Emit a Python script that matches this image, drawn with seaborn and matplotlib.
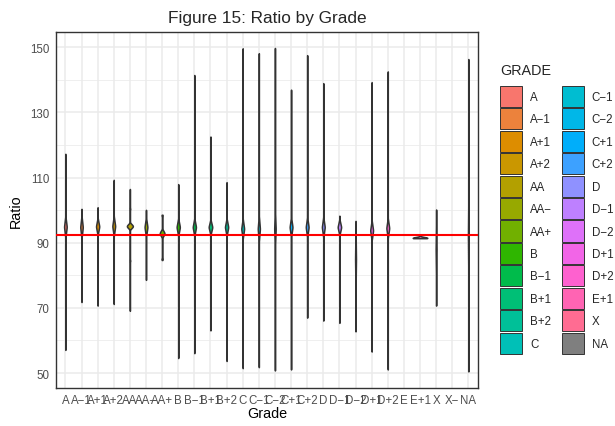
import numpy as np
import pandas as pd
import matplotlib
matplotlib.use("Agg")
import matplotlib.pyplot as plt
from matplotlib.patches import Patch
import seaborn as sns

# x axis order (E and X− have no rows)
grade_order = ["A", "A−1", "A+1", "A+2", "AA", "AA−", "AA+", "B", "B−1", "B+1", "B+2",
               "C", "C−1", "C−2", "C+1", "C+2", "D", "D−1", "D−2", "D+1", "D+2",
               "E", "E+1", "X", "X−", "NA"]

# grades with data (legend order)
grades = ["A", "A−1", "A+1", "A+2", "AA", "AA−", "AA+", "B", "B−1", "B+1", "B+2",
          "C", "C−1", "C−2", "C+1", "C+2", "D", "D−1", "D−2", "D+1", "D+2",
          "E+1", "X", "NA"]

ratio_min = [57.1, 71.8, 70.7, 71.2, 69.1, 78.6, 84.7, 54.6, 56.1, 63.1, 53.7,
             51.5, 51.8, 50.8, 51.1, 67.0, 66.1, 65.4, 62.8, 56.6, 51.1,
             91.4, 70.7, 50.5]
ratio_max = [117.3, 100.4, 100.9, 109.3, 106.5, 100.1, 98.6, 108.0, 141.5, 122.6, 108.6,
             149.7, 148.2, 149.8, 137.0, 147.6, 139.0, 98.3, 96.7, 139.3, 142.6,
             92.5, 100.2, 146.4]
# where most of the ratios sit, and how spread out that bulk is
ratio_mode = [94.9, 94.8, 95.0, 95.1, 95.1, 94.8, 92.9, 94.8, 94.8, 94.8, 94.8,
              94.3, 94.3, 94.3, 94.8, 94.8, 94.8, 94.8, 85.0, 93.8, 94.5,
              91.5, 88.0, 92.0]
bulk_spread = [3.2, 3.4, 2.6, 3.0, 1.1, 3.0, 1.4, 2.6, 2.6, 2.3, 2.6,
               3.0, 4.0, 6.0, 3.0, 3.0, 3.0, 2.4, 10.0, 3.0, 3.0,
               0.1, 10.0, 12.0]

# a few isolated clumps of ratios
extra_grade = ["AA", "AA", "AA+", "AA+"]
extra_ratio = [84.5, 100.4, 85.0, 98.4]
extra_count = [25, 25, 40, 35]

mean_ratio = 92.4


def gg_hue(n, l=65, c=100):
    # ggplot2 default discrete palette (HCL hues)
    hues = np.linspace(15, 375, n + 1)[:-1]
    xn, yn, zn = 0.95047, 1.0, 1.08883
    un = 4 * xn / (xn + 15 * yn + 3 * zn)
    vn = 9 * yn / (xn + 15 * yn + 3 * zn)
    out = []
    for h in hues:
        u = c * np.cos(np.radians(h))
        v = c * np.sin(np.radians(h))
        Y = yn * ((l + 16) / 116) ** 3
        up = u / (13 * l) + un
        vp = v / (13 * l) + vn
        X = Y * 9 * up / (4 * vp)
        Z = Y * (12 - 3 * up - 20 * vp) / (4 * vp)
        rgb = np.array([3.2404542 * X - 1.5371385 * Y - 0.4985314 * Z,
                        -0.9692660 * X + 1.8760108 * Y + 0.0415560 * Z,
                        0.0556434 * X - 0.2040259 * Y + 1.0572252 * Z])
        rgb = np.where(rgb <= 0.0031308, 12.92 * rgb, 1.055 * np.abs(rgb) ** (1 / 2.4) - 0.055)
        out.append(tuple(np.clip(rgb, 0, 1)))
    return out


def build_table():
    tri = np.concatenate([np.arange(1, 22), np.arange(20, 0, -1)])
    rows = []
    for g, lo, hi, m, s in zip(grades, ratio_min, ratio_max, ratio_mode, bulk_spread):
        bulk = np.repeat(np.linspace(m - s, m + s, len(tri)), tri)
        vals = np.concatenate([[lo, hi], bulk])
        rows.append(pd.DataFrame({"Grade": g, "Ratio": vals}))
    for g, r, n in zip(extra_grade, extra_ratio, extra_count):
        rows.append(pd.DataFrame({"Grade": g, "Ratio": np.repeat(r, n)}))
    return pd.concat(rows, ignore_index=True)


df = build_table()
colors = gg_hue(len(grades) - 1) + ["#7F7F7F"]
palette = dict(zip(grades, colors))

sns.set_style("white")
plt.rcParams["font.family"] = ["Liberation Sans", "DejaVu Sans"]

fig = plt.figure(figsize=(6.15, 4.27), dpi=100)
ax = fig.add_axes([0.0906, 0.0890, 0.6867, 0.8344])

sns.violinplot(data=df, x="Grade", y="Ratio", hue="Grade", order=grade_order,
               hue_order=grades, palette=palette, saturation=1, dodge=False,
               cut=0, inner=None, width=0.9, density_norm="area", common_norm=True,
               bw_method=lambda k: 0.25 / k.dataset.std(ddof=1), gridsize=1000,
               linewidth=1.1, linecolor="#333333", legend=False, ax=ax)

ax.axhline(mean_ratio, color="red", lw=1.5, zorder=5)

# theme_bw style grid
ax.set_axisbelow(True)
ax.set_yticks([50, 70, 90, 110, 130, 150])
ax.set_yticks([60, 80, 100, 120, 140], minor=True)
ax.set_xticks(range(len(grade_order)))
ax.set_xticklabels(grade_order)
ax.grid(True, which="major", axis="both", color="#EBEBEB", lw=1.1)
ax.grid(True, which="minor", axis="y", color="#EBEBEB", lw=0.55)

ax.set_xlim(-0.6, len(grade_order) - 0.4)
ax.set_ylim(45.4, 154.8)
ax.tick_params(axis="both", which="major", length=2.4, width=0.9, color="#333333",
               labelsize=8.3, labelcolor="#4D4D4D", pad=1.9)
ax.tick_params(axis="y", which="minor", length=0)
for sp in ax.spines.values():
    sp.set_visible(True)
    sp.set_color("#333333")
    sp.set_linewidth(1.0)

ax.set_xlabel("Grade", fontsize=10.4, color="black")
ax.xaxis.set_label_coords(0.5, -0.050)
ax.xaxis.label.set_va("top")
ax.set_ylabel("Ratio", fontsize=10.4, color="black")
ax.yaxis.set_label_coords(-0.078, 0.5)

fig.text(267 / 615, 1 - 18 / 427, "Figure 15: Ratio by Grade", fontsize=12.4,
         ha="center", va="center")

# legend: title as its own text, keys below
fig.text(500.5 / 615, 1 - 71 / 427, "GRADE", fontsize=10.4, ha="left", va="center")
handles = [Patch(facecolor=palette[g], edgecolor="#333333", linewidth=0.7) for g in grades]
leg = fig.legend(handles, grades, ncol=2, loc="upper left",
                 bbox_to_anchor=(500 / 615, 1 - 87 / 427), bbox_transform=fig.transFigure,
                 frameon=False, fontsize=8.3,
                 handlelength=1.9, handleheight=2.43, labelspacing=0.12,
                 handletextpad=0.7, columnspacing=0.85, borderpad=0, borderaxespad=0)

fig.savefig("out.png", dpi=100)
